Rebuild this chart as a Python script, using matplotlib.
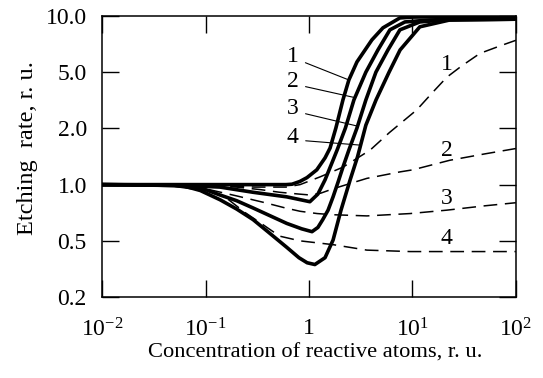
import numpy as np
import matplotlib
matplotlib.use("Agg")
import matplotlib.pyplot as plt

plt.rcParams['font.family'] = ['Liberation Serif', 'DejaVu Serif']
plt.rcParams['mathtext.fontset'] = 'custom'
plt.rcParams['mathtext.rm'] = 'Liberation Serif'

# ---- data (x: concentration, y: etching rate) ----
x_s1 = [0.01, 0.1, 0.3, 0.6, 0.686, 0.818, 0.957, 1.19, 1.43, 1.60, 1.82, 2.13, 2.43, 2.91, 4.06, 5.19, 7.57, 10, 20, 100]
y_s1 = [1.0, 1.0, 1.0, 1.0, 1.005, 1.04, 1.09, 1.20, 1.39, 1.57, 2.01, 3.18, 4.40, 5.67, 7.44, 8.63, 9.75, 9.85, 9.9, 9.9]

x_s2 = [0.01, 0.05, 0.138, 0.288, 0.61, 1.02, 1.22, 1.43, 1.67, 1.87, 2.25, 2.72, 3.55, 4.64, 6.06, 8.47, 14.8, 30, 100]
y_s2 = [1.0, 0.995, 0.97, 0.91, 0.86, 0.81, 0.89, 1.06, 1.31, 1.53, 2.01, 3.18, 5.0, 6.57, 8.42, 9.28, 9.51, 9.6, 9.6]

x_s3 = [0.01, 0.05, 0.1, 0.138, 0.2, 0.288, 0.4, 0.61, 0.85, 1.07, 1.22, 1.36, 1.53, 1.71, 1.91, 2.13, 2.43, 2.91, 3.55, 4.44, 5.80, 7.57, 11.8, 20.6, 100]
y_s3 = [1.0, 0.99, 0.94, 0.88, 0.82, 0.75, 0.69, 0.62, 0.58, 0.56, 0.59, 0.65, 0.73, 0.86, 1.03, 1.24, 1.53, 2.01, 3.18, 5.0, 6.57, 8.42, 9.28, 9.51, 9.6]

x_s4 = [0.01, 0.03, 0.061, 0.089, 0.138, 0.2, 0.288, 0.4, 0.61, 0.8, 0.96, 1.14, 1.43, 1.71, 2.04, 2.5, 2.95, 3.55, 4.45, 5.95, 7.6, 11.8, 23, 100]
y_s4 = [1.0, 0.995, 0.985, 0.93, 0.83, 0.74, 0.65, 0.56, 0.45, 0.38, 0.35, 0.34, 0.38, 0.505, 0.73, 1.06, 1.41, 2.11, 3.18, 5.0, 6.57, 8.74, 9.51, 9.6]

x_d1 = [0.01, 0.1, 0.3, 0.6, 0.82, 1.28, 2.13, 3.9, 6, 11, 16, 21.5, 30, 45, 70, 100]
y_d1 = [1.0, 0.99, 0.97, 0.97, 1.0, 1.10, 1.24, 1.53, 1.9, 2.7, 3.65, 4.6, 5.4, 6.3, 6.9, 7.4]

x_d2 = [0.01, 0.1, 0.2, 0.34, 0.52, 0.8, 1.02, 1.3, 1.71, 3.63, 7.6, 10.1, 23, 50, 100]
y_d2 = [1.0, 0.99, 0.97, 0.94, 0.91, 0.89, 0.88, 0.90, 0.95, 1.08, 1.17, 1.20, 1.35, 1.46, 1.56]

x_d3 = [0.01, 0.05, 0.1, 0.2, 0.376, 0.59, 0.82, 1.2, 1.71, 3.63, 9.5, 21.5, 50, 100]
y_d3 = [1.0, 0.99, 0.95, 0.87, 0.80, 0.75, 0.72, 0.70, 0.69, 0.68, 0.70, 0.73, 0.77, 0.80]

x_d4 = [0.01, 0.05, 0.1, 0.154, 0.24, 0.36, 0.52, 0.82, 1.71, 3.63, 9.5, 30, 100]
y_d4 = [1.0, 0.98, 0.94, 0.86, 0.71, 0.61, 0.53, 0.50, 0.47, 0.43, 0.42, 0.42, 0.42]

curve_labels = ['1', '2', '3', '4']
yticks = [0.2, 0.5, 1.0, 2.0, 5.0, 10.0]
yticklabels = ['0.2', '0.5', '1.0', '2.0', '5.0', '10.0']
xticks = [0.01, 0.1, 1, 10, 100]
xticklabels = [r'$\mathregular{10^{-2}}$', r'$\mathregular{10^{-1}}$', '1',
               r'$\mathregular{10^{1}}$', r'$\mathregular{10^{2}}$']

# y axis in the original has its ticks evenly spaced -> piecewise log scale
lt = np.log10(yticks)
idx = np.arange(len(yticks), dtype=float)


def fwd(v):
    lv = np.log10(np.clip(v, 1e-9, None))
    p = np.interp(lv, lt, idx)
    p = np.where(lv < lt[0], (lv - lt[0]) / (lt[1] - lt[0]), p)
    p = np.where(lv > lt[-1], idx[-1] + (lv - lt[-1]) / (lt[-1] - lt[-2]), p)
    return p


def inv(p):
    p = np.asarray(p, dtype=float)
    lv = np.interp(p, idx, lt)
    lv = np.where(p < 0, lt[0] + p * (lt[1] - lt[0]), lv)
    lv = np.where(p > idx[-1], lt[-1] + (p - idx[-1]) * (lt[-1] - lt[-2]), lv)
    return 10 ** lv


fig = plt.figure(figsize=(5.43, 3.78), dpi=100)
ax = fig.add_axes([0.188, 0.214, 0.762, 0.744])

solids = [(x_s1, y_s1), (x_s2, y_s2), (x_s3, y_s3), (x_s4, y_s4)]
dashes = [(x_d1, y_d1), (x_d2, y_d2), (x_d3, y_d3), (x_d4, y_d4)]

for xs, ys in dashes:
    ax.plot(xs, ys, color='black', lw=1.1, ls=(0, (9, 5)))
for xs, ys in solids:
    ax.plot(xs, ys, color='black', lw=2.6, solid_joinstyle='round')

ax.set_xscale('log')
ax.set_yscale('function', functions=(fwd, inv))
ax.set_xlim(0.01, 100)
ax.set_ylim(0.2, 10.0)

ax.set_xticks(xticks)
ax.set_xticklabels(xticklabels)
ax.xaxis.set_minor_locator(matplotlib.ticker.NullLocator())
ax.set_yticks(yticks)
ax.set_yticklabels(yticklabels)
ax.yaxis.set_minor_locator(matplotlib.ticker.NullLocator())

ax.tick_params(direction='in', length=12, width=1.0, top=True, right=True,
               labelsize=17)
ax.tick_params(axis='x', pad=15)
ax.tick_params(axis='y', pad=11)
for s in ax.spines.values():
    s.set_linewidth(1.1)

# labels on the solid curves, with thin leader lines
lead_x = [2.43, 2.78, 2.95, 3.15]
lab_y = [0.854, 0.765, 0.669, 0.569]
for (xs, ys), lx, ly, t in zip(solids, lead_x, lab_y, curve_labels):
    yy = 10 ** np.interp(np.log10(lx), np.log10(xs), np.log10(ys))
    ax.annotate(t, xy=(lx, yy), xytext=(0.461, ly), textcoords='axes fraction',
                fontsize=17, ha='center', va='center',
                arrowprops=dict(arrowstyle='-', lw=0.8, color='black',
                                shrinkA=3, shrinkB=0, relpos=(1.0, 0.35)))

# labels on the dashed curves
dash_y = [0.826, 0.523, 0.352, 0.21]
for ly, t in zip(dash_y, curve_labels):
    ax.text(0.833, ly, t, transform=ax.transAxes, fontsize=17,
            ha='center', va='center')

ax.set_xlabel('Concentration of reactive atoms, r. u.', fontsize=16.2)
ax.xaxis.set_label_coords(0.515, -0.199)
ax.xaxis.label.set_va('center')
fig.text(0.05, 0.607, 'Etching  rate, r. u.', rotation=90, fontsize=17.5,
         ha='center', va='center')

plt.savefig('out.png', dpi=100)
